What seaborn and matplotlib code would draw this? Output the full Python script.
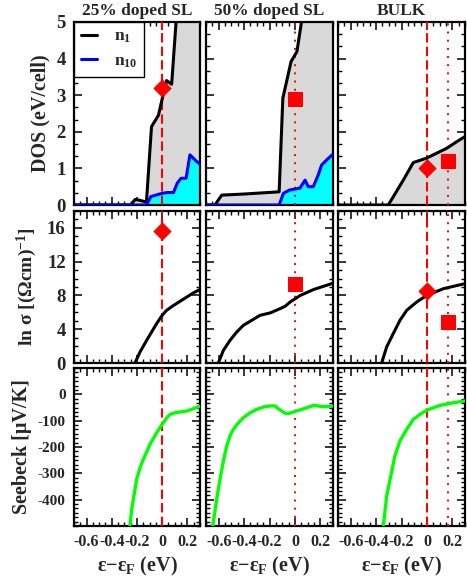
import numpy as np
import pandas as pd
import matplotlib
matplotlib.use('Agg')
import matplotlib.pyplot as plt
import seaborn as sns
from matplotlib.ticker import MultipleLocator
from matplotlib.lines import Line2D

sns.set_theme(style='white')
plt.rcParams['font.family'] = ['Liberation Serif', 'DejaVu Serif']
plt.rcParams['font.weight'] = 'bold'
plt.rcParams['mathtext.fontset'] = 'custom'
plt.rcParams['mathtext.rm'] = 'Liberation Serif:bold'
plt.rcParams['mathtext.it'] = 'Liberation Serif:bold'
plt.rcParams['mathtext.bf'] = 'Liberation Serif:bold'
plt.rcParams['mathtext.default'] = 'rm'

# ---------------- data ----------------
titles = ['25% doped SL', '50% doped SL', 'BULK']

# DOS n1 (black)
dos_n1_25_x = [-0.70, -0.25, -0.215, -0.18, -0.125, -0.085, -0.03, 0.0, 0.035, 0.075, 0.11, 0.14, 0.30]
dos_n1_25_y = [0.0, 0.0, 0.15, 0.13, 0.08, 2.14, 2.45, 2.9, 3.4, 3.3, 5.0, 6.5, 9.0]
dos_n1_50_x = [-0.70, -0.63, -0.576, -0.40, -0.124, -0.095, -0.03, 0.016, 0.05, 0.08, 0.30]
dos_n1_50_y = [0.0, 0.0, 0.27, 0.30, 0.36, 2.92, 3.92, 4.19, 4.96, 6.0, 9.0]
dos_n1_bk_x = [-0.70, -0.304, -0.186, -0.107, -0.003, 0.156, 0.235, 0.30]
dos_n1_bk_y = [0.0, 0.0, 0.68, 1.16, 1.28, 1.55, 1.73, 1.87]

# DOS n10 (blue)
dos_n10_25_x = [-0.70, -0.125, -0.09, 0.0, 0.04, 0.09, 0.12, 0.15, 0.19, 0.22, 0.27, 0.30]
dos_n10_25_y = [0.0, 0.0, 0.23, 0.32, 0.34, 0.34, 0.60, 0.73, 0.73, 1.37, 1.20, 1.12]
dos_n10_50_x = [-0.70, -0.124, -0.09, -0.04, 0.04, 0.08, 0.105, 0.145, 0.184, 0.21, 0.25, 0.30]
dos_n10_50_y = [0.0, 0.0, 0.32, 0.41, 0.46, 0.68, 0.50, 0.50, 0.82, 1.09, 1.23, 1.39]

# ln sigma
lns_25_x = [-0.216, -0.176, -0.123, -0.084, -0.044, 0.0, 0.035, 0.088, 0.141, 0.194, 0.247, 0.30]
lns_25_y = [0.0, 1.3, 2.7, 3.67, 4.67, 5.65, 6.24, 6.8, 7.3, 7.8, 8.3, 8.7]
lns_50_x = [-0.603, -0.563, -0.51, -0.458, -0.405, -0.339, -0.274, -0.195, -0.116, -0.077, -0.037, 0.042, 0.147, 0.30]
lns_50_y = [0.0, 1.5, 2.7, 3.67, 4.47, 5.06, 5.65, 5.93, 6.44, 6.72, 7.23, 8.0, 8.7, 9.45]
lns_bk_x = [-0.356, -0.317, -0.265, -0.212, -0.159, -0.08, -0.002, 0.13, 0.30]
lns_bk_y = [0.0, 1.9, 3.48, 5.06, 6.24, 7.23, 8.0, 8.8, 9.4]

# Seebeck
see_25_x = [-0.256, -0.242, -0.203, -0.176, -0.15, -0.097, -0.044, 0.0, 0.036, 0.062, 0.102, 0.141, 0.20, 0.30]
see_25_y = [-500, -437, -323, -279, -247, -190, -146, -114, -89, -76, -70, -67, -63, -45]
see_50_x = [-0.647, -0.616, -0.59, -0.563, -0.537, -0.511, -0.485, -0.445, -0.406, -0.353, -0.30, -0.248,
            -0.195, -0.155, -0.142, -0.076, -0.05, -0.011, 0.068, 0.147, 0.226, 0.30]
see_50_y = [-500, -399, -323, -253, -196, -158, -133, -108, -89, -70, -57, -48,
            -44, -44, -51, -72, -73, -67, -55, -42, -47, -44]
see_bk_x = [-0.343, -0.317, -0.29, -0.252, -0.212, -0.159, -0.107, -0.054, 0.0, 0.103, 0.208, 0.30]
see_bk_y = [-500, -387, -323, -234, -177, -133, -95, -76, -60, -42, -32, -25]

# markers (x, y)
dos_diamond = {0: (0.0, 3.2), 2: (0.0, 1.0)}
dos_square = {1: (0.0, 2.9), 2: (0.17, 1.2)}
lns_diamond = {0: (0.0, 15.6), 2: (0.0, 8.5)}
lns_square = {1: (0.0, 9.3), 2: (0.17, 4.8)}

dashed_x = {0: [0.0], 1: [], 2: [0.0]}
dotted_x = {0: [], 1: [0.0], 2: [0.17]}

x_ticks = [-0.6, -0.4, -0.2, 0.0, 0.2]
x_ticklabels = ['-0.6', '-0.4', '-0.2', '0', '0.2']

# ---------------- figure ----------------
W, H = 467, 578
fig = plt.figure(figsize=(W / 100, H / 100), dpi=100)

col_left = [74, 206, 338]
col_w = [126, 127, 127]
row_top = [22, 211, 368]
row_h = [183, 152, 158]

axes = [[None] * 3 for _ in range(3)]
for r in range(3):
    for c in range(3):
        ax = fig.add_axes([col_left[c] / W, (H - row_top[r] - row_h[r]) / H,
                           col_w[c] / W, row_h[r] / H])
        axes[r][c] = ax

dos_n1 = [(dos_n1_25_x, dos_n1_25_y), (dos_n1_50_x, dos_n1_50_y), (dos_n1_bk_x, dos_n1_bk_y)]
dos_n10 = [(dos_n10_25_x, dos_n10_25_y), (dos_n10_50_x, dos_n10_50_y), None]
lns = [(lns_25_x, lns_25_y), (lns_50_x, lns_50_y), (lns_bk_x, lns_bk_y)]
see = [(see_25_x, see_25_y), (see_50_x, see_50_y), (see_bk_x, see_bk_y)]

red = '#ff0000'

def style(ax, ylim, ymaj, ymin, r, c):
    ax.set_xlim(-0.7, 0.3)
    ax.set_ylim(*ylim)
    ax.xaxis.set_major_locator(MultipleLocator(0.2))
    ax.xaxis.set_minor_locator(MultipleLocator(0.05))
    ax.yaxis.set_major_locator(MultipleLocator(ymaj))
    ax.yaxis.set_minor_locator(MultipleLocator(ymin))
    ax.tick_params(which='both', direction='in', top=True, right=True,
                   bottom=True, left=True, color='black')
    ax.tick_params(which='major', length=6, width=1.1)
    ax.tick_params(which='minor', length=3, width=1.0)
    for s in ax.spines.values():
        s.set_visible(True)
        s.set_color('black')
        s.set_linewidth(1.6)
    ax.grid(False)
    ax.set_facecolor('white')
    if r == 2:
        ax.set_xticks(x_ticks)
        ax.set_xticklabels(x_ticklabels, fontsize=11.5, fontweight='bold')
        ax.set_xlabel('ε−ε$_\\mathbf{F}$ (eV)', fontsize=14.5, fontweight='bold', labelpad=3)
    else:
        ax.set_xticklabels([])
    if c != 0:
        ax.set_yticklabels([])
    ax.tick_params(axis='x', pad=6)

for c in range(3):
    # ---- DOS ----
    ax = axes[0][c]
    x1, y1 = dos_n1[c]
    ax.fill_between(x1, 0, y1, color='#d9d9d9', lw=0, zorder=1)
    if dos_n10[c] is not None:
        x10, y10 = dos_n10[c]
        ax.fill_between(x10, 0, y10, color='#00ffff', lw=0, zorder=2)
    sns.lineplot(x=x1, y=y1, ax=ax, color='black', lw=2.2, sort=False,
                 estimator=None, zorder=4)
    if dos_n10[c] is not None:
        sns.lineplot(x=x10, y=y10, ax=ax, color='#0000ff', lw=2.2, sort=False,
                     estimator=None, zorder=4)
    # ---- ln sigma ----
    ax2 = axes[1][c]
    lx, ly = lns[c]
    sns.lineplot(x=lx, y=ly, ax=ax2, color='black', lw=2.2, sort=False,
                 estimator=None, zorder=4)
    # ---- Seebeck ----
    ax3 = axes[2][c]
    sx, sy = see[c]
    sns.lineplot(x=sx, y=sy, ax=ax3, color='#00ff00', lw=2.4, sort=False,
                 estimator=None, zorder=4)

    for r, ax_ in enumerate([ax, ax2, ax3]):
        for xv in dashed_x[c]:
            ax_.axvline(xv, color=red, lw=1.5, dashes=(4.5, 2.0), zorder=3)
        for xv in dotted_x[c]:
            ax_.axvline(xv, color=red, lw=1.4, dashes=(1, 3.2), zorder=3)

    if c in dos_diamond:
        sns.scatterplot(x=[dos_diamond[c][0]], y=[dos_diamond[c][1]], ax=ax,
                        marker='D', s=75, color=red, edgecolor=red, zorder=6)
    if c in dos_square:
        sns.scatterplot(x=[dos_square[c][0]], y=[dos_square[c][1]], ax=ax,
                        marker='s', s=90, color=red, edgecolor=red, zorder=6)
    if c in lns_diamond:
        sns.scatterplot(x=[lns_diamond[c][0]], y=[lns_diamond[c][1]], ax=ax2,
                        marker='D', s=75, color=red, edgecolor=red, zorder=6)
    if c in lns_square:
        sns.scatterplot(x=[lns_square[c][0]], y=[lns_square[c][1]], ax=ax2,
                        marker='s', s=90, color=red, edgecolor=red, zorder=6)

    style(ax, (0, 5), 1, 1 / 3, 0, c)
    style(ax2, (0, 18), 4, 1, 1, c)
    style(ax3, (-500, 100), 100, 100 / 6, 2, c)
    ax.set_title(titles[c], fontsize=12.5, fontweight='bold', pad=5)

# y tick labels for first column
axes[0][0].set_yticks([0, 1, 2, 3, 4, 5])
axes[0][0].set_yticklabels(['0', '1', '2', '3', '4', '5'], fontsize=13.5, fontweight='bold')
axes[1][0].set_yticks([0, 4, 8, 12, 16])
axes[1][0].set_yticklabels(['0', '4', '8', '12', '16'], fontsize=13.5, fontweight='bold')
axes[2][0].set_yticks([-400, -300, -200, -100, 0])
axes[2][0].set_yticklabels(['-400', '-300', '-200', '-100', '0'], fontsize=11, fontweight='bold')
for r in range(3):
    axes[r][0].tick_params(axis='y', pad=6)

axes[0][0].set_ylabel('DOS (eV/cell)', fontsize=14.5, fontweight='bold')
axes[1][0].set_ylabel('ln σ [(Ωcm)$^{-1}$]', fontsize=14, fontweight='bold')
axes[2][0].set_ylabel('Seebeck [μV/K]', fontsize=14.5, fontweight='bold')
axes[0][0].yaxis.set_label_coords(-0.19, 0.5)
axes[1][0].yaxis.set_label_coords(-0.28, 0.5)
axes[2][0].yaxis.set_label_coords(-0.33, 0.5)

handles = [Line2D([0], [0], color='black', lw=2.2),
           Line2D([0], [0], color='#0000ff', lw=2.2)]
leg = axes[0][0].legend(handles, ['n$_1$', 'n$_{10}$'], loc='upper left',
                        bbox_to_anchor=(0.0, 1.0), fontsize=12.5, frameon=True,
                        fancybox=False, handlelength=0.9, handletextpad=1.0,
                        borderpad=0.4, labelspacing=0.45, borderaxespad=0.0)
leg.get_frame().set_edgecolor('black')
leg.get_frame().set_linewidth(1.0)
leg.get_frame().set_alpha(1)
leg.set_zorder(10)

fig.savefig('out.png', dpi=100)
